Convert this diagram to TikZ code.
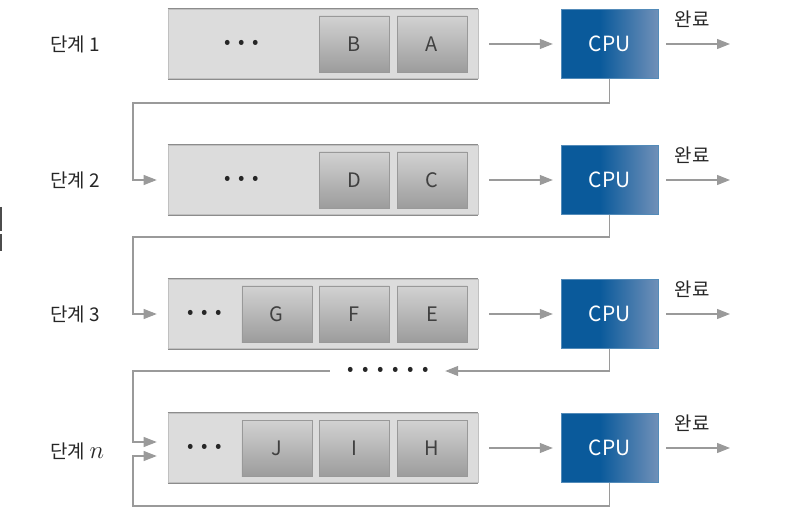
\documentclass[tikz,border=0pt]{standalone}
\usepackage{fontspec}
\setmainfont{Noto Sans CJK KR}
\usetikzlibrary{arrows.meta, positioning}

\definecolor{barfill}{HTML}{DCDCDC}
\definecolor{bargray}{HTML}{8C8C8C}
\definecolor{jobtop}{HTML}{D2D2D2}
\definecolor{jobbottom}{HTML}{9C9C9C}
\definecolor{cpudark}{HTML}{0A5A9B}
\definecolor{cpulight}{HTML}{7090B8}
\definecolor{arrowgray}{HTML}{9A9A9A}
\pgfdeclarehorizontalshading{cpushade}{100bp}{color(0bp)=(cpudark); color(25bp)=(cpudark); color(45bp)=(cpudark); color(75bp)=(cpulight); color(100bp)=(cpulight)}

\newcommand{\dotsthree}{\makebox[14bp]{•}\makebox[14bp]{•}\makebox[14bp]{•}}
\newcommand{\dotssix}{\makebox[15bp]{•}\makebox[15bp]{•}\makebox[15bp]{•}\makebox[15bp]{•}\makebox[15bp]{•}\makebox[15bp]{•}}

\begin{document}
\begin{tikzpicture}[x=1bp, y=-1bp,
    queue_bar/.style={rectangle, fill=barfill, draw=bargray!55, line width=0.6bp, minimum width=310bp, minimum height=69bp, inner sep=0pt,
        append after command={
            \pgfextra{
                \draw[bargray, line width=1.6bp] (\tikzlastnode.north west) -- (\tikzlastnode.north east)
                    (\tikzlastnode.south west) -- (\tikzlastnode.south east);
            }
        }
    },
    job_box/.style={rectangle, draw=black!40, line width=0.6bp, top color=jobtop, bottom color=jobbottom, minimum width=70bp, minimum height=56bp, inner sep=0pt, text=black!75, font=\fontsize{20}{22}\selectfont},
    cpu_box/.style={rectangle, draw=cpudark!70, shade, shading=cpushade, minimum width=97bp, minimum height=69bp, inner sep=0pt, text=white, font=\fontsize{21}{22}\selectfont},
    flow_arrow/.style={draw=arrowgray, line width=1.1bp, -{Triangle[length=13bp, width=10bp]}},
    stage_label/.style={anchor=west, text=black!85, font=\fontsize{19}{22}\selectfont},
    done_label/.style={text=black!85, font=\fontsize{19}{22}\selectfont},
    queue_dots/.style={inner sep=0pt, text=black!85, font=\fontsize{19}{20}\selectfont}
]
\useasboundingbox (0,0) rectangle (792,516);

% stray mark at the left edge
\draw[black!70, line width=1.5bp] (1,207) -- (1,231) (1,234) -- (1,251);

% Stage 1
\node (stage1) [stage_label] at (47,44) {단계 1};
\node (q1) at (323,44) [queue_bar] {};
\node (a_box) at (432,44) [job_box] {A};
\node (b_box) [job_box, left=7bp of a_box] {B};
\node (dots1) at (242,44) [queue_dots] {\dotsthree};
\node (cpu1) at (609.5,44) [cpu_box] {CPU};
\coordinate (done1) at (730,44);
\node (done1_label) at (692,19) [done_label] {완료};

% Stage 2
\node (stage2) [stage_label] at (47,180) {단계 2};
\node (q2) at (323,180) [queue_bar] {};
\node (c_box) at (432,180) [job_box] {C};
\node (d_box) [job_box, left=7bp of c_box] {D};
\node (dots2) at (242,180) [queue_dots] {\dotsthree};
\node (cpu2) at (609.5,180) [cpu_box] {CPU};
\coordinate (done2) at (730,180);
\node (done2_label) at (692,155) [done_label] {완료};

% Stage 3
\node (stage3) [stage_label] at (47,314) {단계 3};
\node (q3) at (323,314) [queue_bar] {};
\node (e_box) at (432,314) [job_box] {E};
\node (f_box) [job_box, left=7bp of e_box] {F};
\node (g_box) [job_box, left=7bp of f_box] {G};
\node (dots3) at (205,314) [queue_dots] {\dotsthree};
\node (cpu3) at (609.5,314) [cpu_box] {CPU};
\coordinate (done3) at (730,314);
\node (done3_label) at (692,289) [done_label] {완료};

% Stage n
\node (stagen) [stage_label] at (47,451) {단계 {\fontsize{25}{25}\selectfont$n$}};
\node (qn) at (323,448) [queue_bar] {};
\node (h_box) at (432,448) [job_box] {H};
\node (i_box) [job_box, left=7bp of h_box] {I};
\node (j_box) [job_box, left=7bp of i_box] {J};
\node (dotsn) at (205,448) [queue_dots] {\dotsthree};
\node (cpun) at (609.5,448) [cpu_box] {CPU};
\coordinate (donen) at (730,448);
\node (donen_label) at (692,423) [done_label] {완료};

% Omitted stages
\node (more) at (388,371) [queue_dots] {\dotssix};

% Queue to CPU, CPU to done
\draw [flow_arrow, shorten <=11bp, shorten >=8bp] (q1) -- (cpu1);
\draw [flow_arrow, shorten <=11bp, shorten >=8bp] (q2) -- (cpu2);
\draw [flow_arrow, shorten <=11bp, shorten >=8bp] (q3) -- (cpu3);
\draw [flow_arrow, shorten <=11bp, shorten >=8bp] (qn) -- (cpun);
\draw [flow_arrow, shorten <=8bp] (cpu1) -- (done1);
\draw [flow_arrow, shorten <=8bp] (cpu2) -- (done2);
\draw [flow_arrow, shorten <=8bp] (cpu3) -- (done3);
\draw [flow_arrow, shorten <=8bp] (cpun) -- (donen);

% Feedback to the next stage
\coordinate (turn1) at (133,103);
\coordinate (turn2) at (133,237);
\coordinate (turn3) at (133,371);
\coordinate (turnn) at (133,506);
\draw [flow_arrow, shorten >=11bp] (cpu1.south) |- (turn1) |- (q2.west);
\draw [flow_arrow, shorten >=11bp] (cpu2.south) |- (turn2) |- (q3.west);
\draw [flow_arrow, shorten >=12bp] (cpu3.south) |- (more.east);
\draw [flow_arrow, shorten <=13bp, shorten >=11bp] (more.west) -- (turn3) |- ([yshift=6bp]qn.west);
\draw [flow_arrow, shorten >=11bp] (cpun.south) |- (turnn) |- ([yshift=-8bp]qn.west);

\end{tikzpicture}
\end{document}
